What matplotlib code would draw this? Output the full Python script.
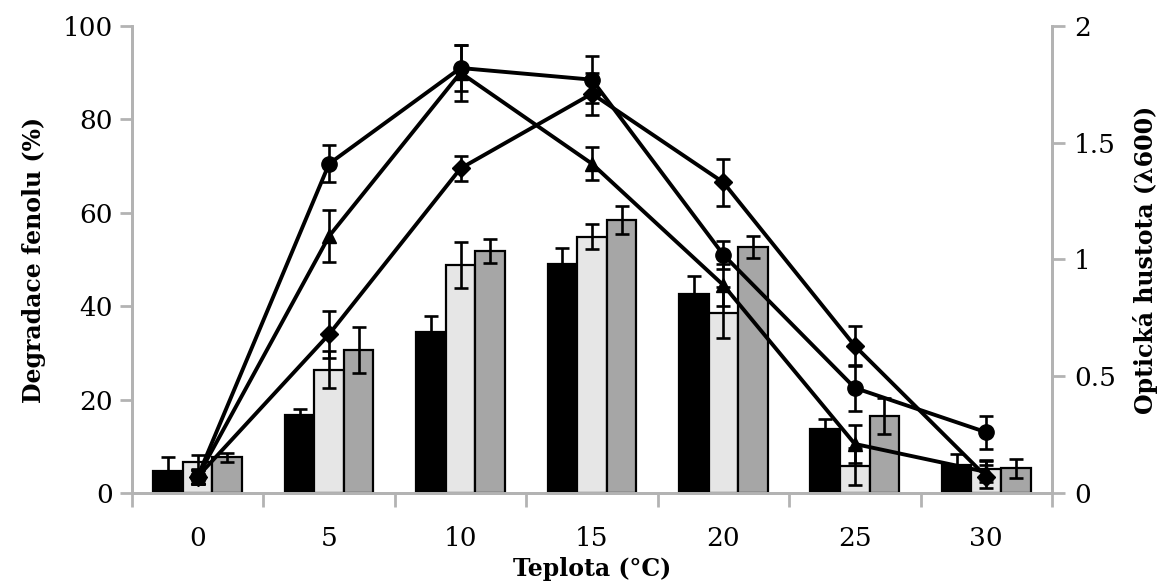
import numpy as np
import matplotlib
matplotlib.use("Agg")
import matplotlib.pyplot as plt

# data
teploty = ["0", "5", "10", "15", "20", "25", "30"]

# degradace fenolu (%) - three bar series
deg_black = [4.6, 16.6, 34.5, 49.0, 42.6, 13.6, 6.0]
deg_black_err = [3.0, 1.4, 3.4, 3.4, 3.8, 2.3, 2.3]
deg_light = [6.6, 26.4, 48.8, 54.9, 38.6, 5.7, 5.1]
deg_light_err = [1.5, 4.0, 4.9, 2.6, 5.5, 4.0, 2.0]
deg_gray = [7.6, 30.6, 51.8, 58.5, 52.7, 16.5, 5.3]
deg_gray_err = [1.0, 5.0, 2.6, 3.0, 2.4, 3.9, 2.0]

# opticka hustota - three line series
od_circle = [0.07, 1.41, 1.82, 1.77, 1.02, 0.45, 0.26]
od_circle_err = [0.03, 0.08, 0.10, 0.10, 0.06, 0.10, 0.07]
od_triangle = [0.07, 1.10, 1.80, 1.41, 0.89, 0.21, 0.09]
od_triangle_err = [0.03, 0.11, 0.12, 0.07, 0.09, 0.08, 0.045]
od_diamond = [0.07, 0.68, 1.39, 1.71, 1.33, 0.63, 0.07]
od_diamond_err = [0.03, 0.10, 0.055, 0.09, 0.10, 0.085, 0.05]

plt.rcParams['font.family'] = 'DejaVu Serif'
axis_grey = '#b3b3b3'

fig = plt.figure(figsize=(11.63, 5.85), dpi=100)
ax = fig.add_axes([0.1135, 0.1573, 0.791, 0.7983])
ax2 = ax.twinx()

x = np.arange(len(teploty))
w = 0.225
err_kw = dict(ecolor='black', elinewidth=1.9, capsize=4.8, capthick=1.9)
ax.bar(x - w, deg_black, w, yerr=deg_black_err, color='black', edgecolor='black',
       linewidth=1.6, error_kw=err_kw, zorder=2)
ax.bar(x, deg_light, w, yerr=deg_light_err, color='#e6e6e6', edgecolor='black',
       linewidth=1.6, error_kw=err_kw, zorder=2)
ax.bar(x + w, deg_gray, w, yerr=deg_gray_err, color='#a6a6a6', edgecolor='black',
       linewidth=1.6, error_kw=err_kw, zorder=2)

line_kw = dict(color='black', linewidth=2.8, capsize=4.8, elinewidth=1.9, capthick=1.9)
ax2.errorbar(x, od_circle, yerr=od_circle_err, marker='o', markersize=11, **line_kw)
ax2.errorbar(x, od_triangle, yerr=od_triangle_err, marker='^', markersize=10, **line_kw)
ax2.errorbar(x, od_diamond, yerr=od_diamond_err, marker='D', markersize=9, **line_kw)

ax.set_xlim(-0.5, len(teploty) - 0.5)
ax.set_ylim(0, 100)
ax2.set_ylim(0, 2)
ax.set_yticks([0, 20, 40, 60, 80, 100])
ax2.set_yticks([0, 0.5, 1, 1.5, 2])
ax2.set_yticklabels(['0', '0.5', '1', '1.5', '2'])

# category labels centred, tick marks between categories
ax.set_xticks(x)
ax.set_xticklabels(teploty)
ax.set_xticks(np.arange(-0.5, len(teploty)), minor=True)
ax.tick_params(axis='x', which='major', length=0, pad=24, labelsize=19)
ax.tick_params(axis='x', which='minor', length=10, width=2, color=axis_grey)
ax.tick_params(axis='y', length=9, width=2, color=axis_grey, labelsize=19, pad=5)
ax2.tick_params(axis='y', length=9, width=2, color=axis_grey, labelsize=19, pad=7)

for a in (ax, ax2):
    a.spines['top'].set_visible(False)
    for s in ('left', 'right', 'bottom'):
        a.spines[s].set_color(axis_grey)
        a.spines[s].set_linewidth(2)

ax.set_xlabel('Teplota (°C)', fontsize=17, fontweight='bold', labelpad=4)
ax.set_ylabel('Degradace fenolu (%)', fontsize=17, fontweight='bold', labelpad=12)
ax2.set_ylabel('Optická hustota (λ600)', fontsize=17, fontweight='bold', labelpad=12)

fig.savefig('out.png', dpi=100)
